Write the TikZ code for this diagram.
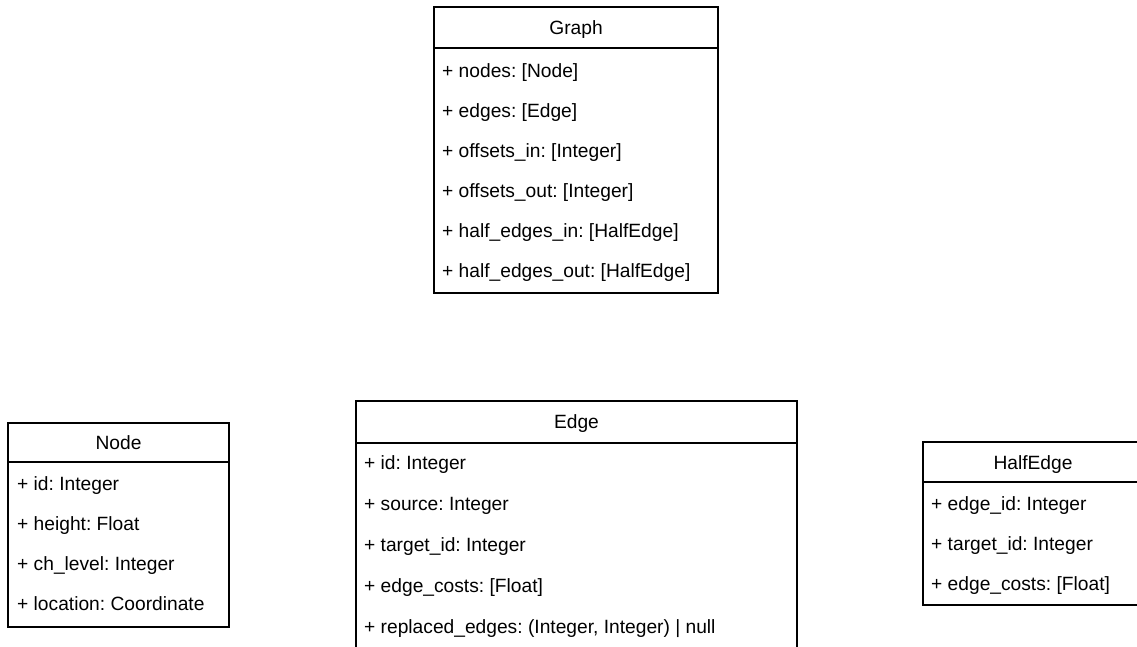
\documentclass[tikz,border=0pt]{standalone}
\usepackage{fontspec}
\setmainfont{Liberation Sans}
\frenchspacing
\tikzset{
  classbox/.style={draw=black, line width=1.3pt, fill=white, inner sep=0pt},
  divider/.style={draw=black, line width=1.3pt},
  ctitle/.style={font=\fontsize{19.2}{22}\selectfont, anchor=center, inner sep=0pt, text height=13.5pt, text depth=4pt},
  attr/.style={font=\fontsize{19.2}{22}\selectfont, anchor=west, inner sep=0pt, text height=13.5pt, text depth=4pt},
}
\begin{document}
\frenchspacing
\begin{tikzpicture}[x=1pt,y=-1pt]
\useasboundingbox (0,0) rectangle (1137,646);
\fill[white] (0,0) rectangle (1137,646);
\clip (0,0) rectangle (1137,646);

% Graph
\node[classbox, minimum width=284pt, minimum height=286pt] (graph) at (576,150) {};
\draw[divider] (graph.west |- 0,48) -- (graph.east |- 0,48);
\node[ctitle] (graphT) at (576,30) {Graph};
\node[attr] (g1) at (442,73) {+ nodes: [Node]};
\node[attr] (g2) at (442,113) {+ edges: [Edge]};
\node[attr] (g3) at (442,153) {+ offsets\_in: [Integer]};
\node[attr] (g4) at (442,193) {+ offsets\_out: [Integer]};
\node[attr] (g5) at (442,233) {+ half\_edges\_in: [HalfEdge]};
\node[attr] (g6) at (442,273) {+ half\_edges\_out: [HalfEdge]};

% Node
\node[classbox, minimum width=221pt, minimum height=204pt] (nodeC) at (118.5,525) {};
\draw[divider] (nodeC.west |- 0,462) -- (nodeC.east |- 0,462);
\node[ctitle] (nodeT) at (118.5,445) {Node};
\node[attr] (n1) at (17,486) {+ id: Integer};
\node[attr] (n2) at (17,526) {+ height: Float};
\node[attr] (n3) at (17,566) {+ ch\_level: Integer};
\node[attr] (n4) at (17,606) {+ location: Coordinate};

% Edge
\node[classbox, minimum width=441pt, minimum height=252pt] (edgeC) at (576.5,527) {};
\draw[divider] (edgeC.west |- 0,443) -- (edgeC.east |- 0,443);
\node[ctitle] (edgeT) at (576.5,424) {Edge};
\node[attr] (e1) at (364,465) {+ id: Integer};
\node[attr] (e2) at (364,506) {+ source: Integer};
\node[attr] (e3) at (364,547) {+ target\_id: Integer};
\node[attr] (e4) at (364,588) {+ edge\_costs: [Float]};
\node[attr] (e5) at (364,629) {+ replaced\_edges: (Integer, Integer) | null};

% HalfEdge
\node[classbox, minimum width=220pt, minimum height=163pt] (halfC) at (1033,523.5) {};
\draw[divider] (halfC.west |- 0,482) -- (halfC.east |- 0,482);
\node[ctitle] (halfT) at (1033,465) {HalfEdge};
\node[attr] (h1) at (931,506) {+ edge\_id: Integer};
\node[attr] (h2) at (931,546) {+ target\_id: Integer};
\node[attr] (h3) at (931,586) {+ edge\_costs: [Float]};
\end{tikzpicture}
\end{document}
